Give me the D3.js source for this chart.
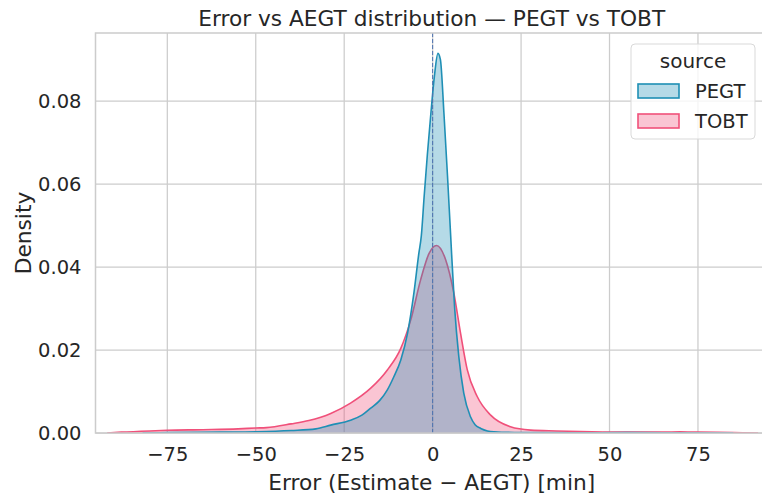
<!DOCTYPE html>
<html>
<head>
<meta charset="utf-8">
<script src="https://cdn.jsdelivr.net/npm/d3@7"></script>
<style>
  body { margin: 0; background: #fff; }
  text { font-family: 'DejaVu Sans', sans-serif; fill: #262626; }
</style>
</head>
<body>
<script>
// KDE curves: error in minutes, density
const pegtX = [-82, -75, -60, -50, -40, -33, -28.8, -23.2, -20, -17.5, -15, -12.8, -11, -9, -7.1, -5.3, -3.9, -3.2, -2.4, -1.5, -0.5, 0.5, 1.5, 2.2, 3.2, 4.2, 5.1, 6.2, 7.4, 8.8, 10.7, 12, 13.6, 15.5, 17.3, 25, 40, 55, 70, 85];
const pegtY = [0, 0.0001, 0.0002, 0.0003, 0.0006, 0.001, 0.0019, 0.0031, 0.0043, 0.006, 0.0078, 0.0104, 0.0135, 0.0176, 0.024, 0.0337, 0.0433, 0.0475, 0.057, 0.067, 0.077, 0.086, 0.0915, 0.09, 0.077, 0.062, 0.0475, 0.0304, 0.0184, 0.0096, 0.0039, 0.002, 0.0011, 0.0005, 0.0003, 0.0001, 0.00005, 0.0001, 0.00005, 0];

const tobtX = [-92, -88, -80, -75, -65, -55, -50, -47, -40, -35, -28.8, -23.2, -17.5, -12.8, -9, -6.2, -3.4, -1, 1.1, 3.7, 6, 7.9, 9.8, 12.6, 16.4, 22, 27.7, 35, 45, 55, 65, 70, 75, 85, 92];
const tobtY = [0, 0.0002, 0.0005, 0.00065, 0.0008, 0.001, 0.0012, 0.0013, 0.0022, 0.003, 0.0047, 0.0072, 0.0108, 0.0152, 0.0204, 0.0272, 0.0369, 0.0433, 0.0452, 0.0417, 0.0337, 0.024, 0.0152, 0.0088, 0.0043, 0.0015, 0.0007, 0.0005, 0.0003, 0.0002, 0.0002, 0.0003, 0.0002, 0.0001, 0];

const xTicks = [-75, -50, -25, 0, 25, 50, 75];
const yTicks = [0, 0.02, 0.04, 0.06, 0.08];
const seriesNames = ['PEGT', 'TOBT'];

const w = 762;
const h = 495;
const mLeft = 95.5, mRight = 768, mTop = 33, mBottom = 433;

const colors = { PEGT: '#1f8fb5', TOBT: '#f0507a' };

const svg = d3.select('body')
              .append('svg')
              .attr('width', w)
              .attr('height', h);

const xScale = d3.scaleLinear().domain([-95.3, 94.8]).range([mLeft, mRight]);
const yScale = d3.scaleLinear().domain([0, 0.0964]).range([mBottom, mTop]);

svg.append('clipPath')
   .attr('id', 'plot-clip')
   .append('rect')
   .attr('x', mLeft).attr('y', mTop)
   .attr('width', mRight - mLeft).attr('height', mBottom - mTop);

// grid
const grid = svg.append('g').attr('stroke', '#cccccc').attr('stroke-width', 1.25);
grid.selectAll('.gx')
    .data(xTicks)
    .enter()
    .append('line')
    .attr('x1', d => xScale(d)).attr('x2', d => xScale(d))
    .attr('y1', mTop).attr('y2', mBottom);
grid.selectAll('.gy')
    .data(yTicks)
    .enter()
    .append('line')
    .attr('x1', mLeft).attr('x2', mRight)
    .attr('y1', d => yScale(d)).attr('y2', d => yScale(d));

// densities, TOBT underneath
const series = [
  { name: 'TOBT', xs: tobtX, ys: tobtY },
  { name: 'PEGT', xs: pegtX, ys: pegtY }
];

const area = d3.area()
               .x(d => xScale(d[0]))
               .y0(yScale(0))
               .y1(d => yScale(d[1]))
               .curve(d3.curveMonotoneX);
const line = d3.line()
               .x(d => xScale(d[0]))
               .y(d => yScale(d[1]))
               .curve(d3.curveMonotoneX);

const plot = svg.append('g').attr('clip-path', 'url(#plot-clip)');
series.forEach(s => {
  const pts = s.xs.map((x, i) => [x, s.ys[i]]);
  plot.append('path')
      .attr('d', area(pts))
      .attr('fill', colors[s.name])
      .attr('fill-opacity', 0.33);
  plot.append('path')
      .attr('d', line(pts))
      .attr('fill', 'none')
      .attr('stroke', colors[s.name])
      .attr('stroke-width', 1.6);
});

plot.append('line')
    .attr('x1', xScale(0)).attr('x2', xScale(0))
    .attr('y1', mTop).attr('y2', mBottom)
    .attr('stroke', '#4c72b0')
    .attr('stroke-width', 1)
    .attr('stroke-dasharray', '4,2');

// spines
svg.append('path')
   .attr('d', `M${mRight},${mTop}H${mLeft}V${mBottom}H${mRight}`)
   .attr('fill', 'none')
   .attr('stroke', '#cccccc')
   .attr('stroke-width', 1.5);

// axes without tick marks
const xAxis = d3.axisBottom(xScale).tickValues(xTicks).tickSize(0).tickPadding(14);
const yAxis = d3.axisLeft(yScale).tickValues(yTicks).tickSize(0).tickPadding(14).tickFormat(d3.format('.2f'));

svg.append('g')
   .attr('transform', 'translate(0,' + mBottom + ')')
   .call(xAxis)
   .call(g => g.select('.domain').remove())
   .selectAll('text')
   .attr('font-size', 19.5)
   .attr('font-family', 'DejaVu Sans')
   .attr('fill', '#262626');

svg.append('g')
   .attr('transform', 'translate(' + mLeft + ',0)')
   .call(yAxis)
   .call(g => g.select('.domain').remove())
   .selectAll('text')
   .attr('font-size', 19.5)
   .attr('font-family', 'DejaVu Sans')
   .attr('fill', '#262626');

svg.append('text')
   .attr('x', (mLeft + mRight) / 2)
   .attr('y', 26)
   .attr('text-anchor', 'middle')
   .attr('font-size', 21.7)
   .text('Error vs AEGT distribution — PEGT vs TOBT');

svg.append('text')
   .attr('x', (mLeft + mRight) / 2)
   .attr('y', 490)
   .attr('text-anchor', 'middle')
   .attr('font-size', 21.7)
   .text('Error (Estimate − AEGT) [min]');

svg.append('text')
   .attr('transform', 'translate(31,' + (mTop + mBottom) / 2 + ') rotate(-90)')
   .attr('text-anchor', 'middle')
   .attr('font-size', 21.7)
   .text('Density');

// legend
const legend = svg.append('g').attr('transform', 'translate(631,44)');
legend.append('rect')
      .attr('width', 124).attr('height', 95)
      .attr('rx', 4)
      .attr('fill', '#fff').attr('fill-opacity', 0.8)
      .attr('stroke', '#d9d9d9');
legend.append('text')
      .attr('x', 62).attr('y', 24)
      .attr('text-anchor', 'middle')
      .attr('font-size', 20)
      .text('source');
seriesNames.forEach((name, i) => {
  legend.append('rect')
        .attr('x', 7).attr('y', 40 + i * 30)
        .attr('width', 41).attr('height', 14)
        .attr('fill', colors[name]).attr('fill-opacity', 0.33)
        .attr('stroke', colors[name]).attr('stroke-width', 1.6);
  legend.append('text')
        .attr('x', 64).attr('y', 54 + i * 30)
        .attr('font-size', 19.5)
        .text(name);
});
</script>
</body>
</html>
